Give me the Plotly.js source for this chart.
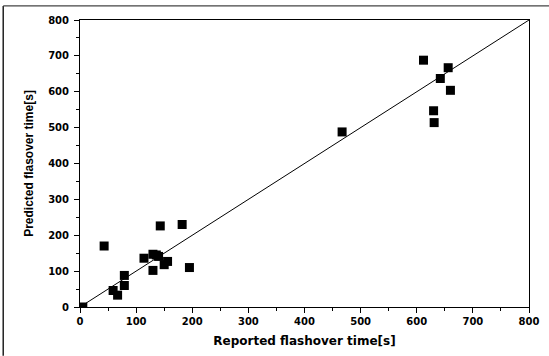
<!DOCTYPE html>
<html>
<head>
<meta charset="utf-8">
<script src="https://cdn.plot.ly/plotly-3.0.1.min.js"></script>
<style>html,body{margin:0;padding:0;background:#fff;}#chart{width:549px;height:356px;}</style>
</head>
<body>
<div id="chart"></div>
<script>
const reportedTime = [5, 43, 59, 67, 79, 79, 114, 130, 136, 140, 130, 143, 150, 156, 182, 195, 467, 612, 656, 642, 660, 630, 631];
const predictedTime = [0, 170, 46, 33, 88, 60, 136, 147, 145, 141, 102, 226, 118, 127, 230, 110, 488, 688, 667, 637, 604, 547, 514];
const lineX = [0, 800];
const lineY = [0, 800];
const tickVals = [0, 100, 200, 300, 400, 500, 600, 700, 800];

const tickFont = {family: "DejaVu Sans, sans-serif", size: 10, weight: "bold", color: "#000"};

const traces = [
  {x: lineX, y: lineY, mode: "lines", line: {color: "#000", width: 1}, hoverinfo: "skip"},
  {x: reportedTime, y: predictedTime, mode: "markers",
   marker: {symbol: "square", size: 9, color: "#000"}}
];

const axisBase = {
  range: [0, 800], tickvals: tickVals, ticks: "outside", ticklen: 5, tickwidth: 1,
  tickcolor: "#000", showline: true, linecolor: "#000", linewidth: 1, mirror: true,
  showgrid: false, zeroline: false, fixedrange: true,
  tickfont: tickFont,
  minor: {dtick: 50, ticks: "outside", ticklen: 3, tickcolor: "#000", showgrid: false}
};

const layout = {
  width: 549, height: 356,
  margin: {l: 80, r: 20, t: 20, b: 49},
  showlegend: false,
  paper_bgcolor: "#fff", plot_bgcolor: "#fff",
  xaxis: Object.assign({}, axisBase, {
    title: {text: "Reported flashover time[s]", standoff: 10,
            font: {family: "DejaVu Sans, sans-serif", size: 12, weight: "bold", color: "#000"}}
  }),
  yaxis: Object.assign({}, axisBase, {
    ticklabelstandoff: 3,
    title: {text: "Predicted flasover time[s]", standoff: 11,
            font: {family: "Liberation Sans, Arial, sans-serif", size: 12, weight: "bold", color: "#000"}}
  }),
  shapes: [
    {type: "line", xref: "paper", yref: "paper", x0: -0.171, x1: -0.171, y0: -0.17, y1: 1.049,
     line: {color: "#222", width: 1.5}},
    {type: "line", xref: "paper", yref: "paper", x0: -0.171, x1: 1.045, y0: 1.049, y1: 1.049,
     line: {color: "#444", width: 1.2}}
  ]
};

Plotly.newPlot("chart", traces, layout, {displayModeBar: false, staticPlot: true});
</script>
</body>
</html>
